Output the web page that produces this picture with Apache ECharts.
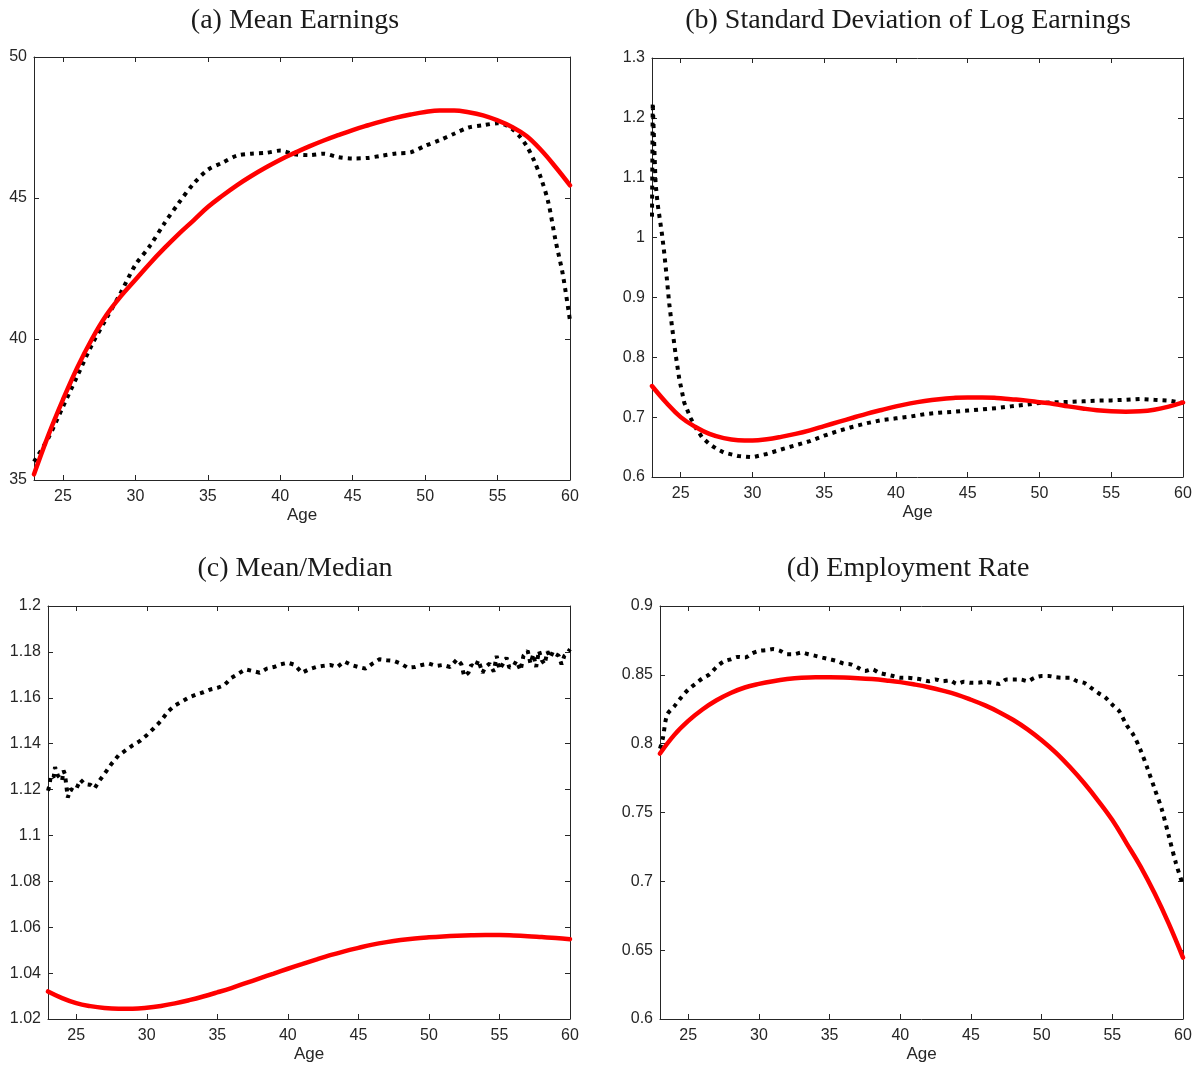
<!DOCTYPE html>
<html>
<head>
<meta charset="utf-8">
<script src="https://cdn.jsdelivr.net/npm/echarts@6/dist/echarts.min.js"></script>
<style>
  html, body { margin: 0; padding: 0; background: #ffffff; }
  #chart { width: 1200px; height: 1068px; }
</style>
</head>
<body>
<div id="chart"></div>
<script>
// Age grid shared by the model curves (one point per year)
const ageYears = [23, 24, 25, 26, 27, 28, 29, 30, 31, 32, 33, 34, 35, 36, 37, 38, 39, 40, 41,
                  42, 43, 44, 45, 46, 47, 48, 49, 50, 51, 52, 53, 54, 55, 56, 57, 58, 59, 60];
const ageTicks = [25, 30, 35, 40, 45, 50, 55, 60];

// (a) Mean earnings
const meanEarnModel = [35.2, 36.6, 37.85, 39.0, 40.0, 40.85, 41.52, 42.1, 42.68, 43.22,
                       43.73, 44.2, 44.68, 45.08, 45.45, 45.78, 46.08, 46.36, 46.6, 46.83,
                       47.04, 47.23, 47.41, 47.57, 47.72, 47.85, 47.96, 48.05, 48.1, 48.1,
                       48.04, 47.93, 47.75, 47.52, 47.2, 46.7, 46.1, 45.45];
const meanEarnAges = [23, 24, 25, 26, 27, 28, 29, 30, 31, 32, 33, 34, 35, 36, 37, 38, 39, 40,
                      41, 42, 43, 44, 45, 46, 47, 48, 49, 50, 51, 52, 53, 54, 55, 55.5, 56,
                      56.5, 57, 57.5, 58, 58.5, 59, 59.5, 60];
const meanEarnData = [35.65, 36.5, 37.6, 38.7, 39.8, 40.73, 41.65, 42.63, 43.3, 44.1, 44.83,
                      45.5, 46.0, 46.25, 46.5, 46.57, 46.6, 46.68, 46.55, 46.52, 46.57, 46.45,
                      46.4, 46.42, 46.5, 46.58, 46.62, 46.85, 47.05, 47.28, 47.5, 47.58, 47.65,
                      47.6, 47.45, 47.2, 46.85, 46.35, 45.7, 44.85, 43.5, 42.3, 40.65];

// (b) Standard deviation of log earnings
const sdModel = [0.752, 0.724, 0.70, 0.684, 0.672, 0.665, 0.6615, 0.661, 0.663, 0.667,
                 0.672, 0.678, 0.685, 0.692, 0.699, 0.706, 0.712, 0.718, 0.723, 0.727,
                 0.730, 0.732, 0.733, 0.733, 0.732, 0.730, 0.728, 0.725, 0.722, 0.718,
                 0.7145, 0.7115, 0.7097, 0.709, 0.7098, 0.7125, 0.7175, 0.7245];
const sdAges = [23, 23.05, 23.25, 23.4, 23.55, 23.7, 23.85, 24, 24.2, 24.4, 24.65, 24.9,
                25.25, 25.7, 26.1, 26.5, 27, 27.5, 28,
                29, 30, 31, 32, 33, 34, 35, 36, 37, 38, 39, 40, 41, 42, 43, 44, 45, 46, 47,
                48, 49, 50, 51, 52, 53, 54, 55, 56, 57, 58, 59, 60];
const sdData = [1.035, 1.225, 1.09, 1.055, 1.03, 1.005, 0.975, 0.94, 0.89, 0.85, 0.804, 0.764,
                0.724, 0.698, 0.68, 0.666, 0.655, 0.647, 0.641,
                0.635, 0.633, 0.6385, 0.646, 0.653, 0.660, 0.669, 0.677, 0.684, 0.690, 0.695,
                0.698, 0.701, 0.705, 0.7075, 0.709, 0.711, 0.713, 0.715, 0.718, 0.7207,
                0.7236, 0.7247, 0.7253, 0.7264, 0.7276, 0.728, 0.729, 0.7305, 0.729, 0.7276,
                0.7236];

// (c) Mean / median
const mmModel = [1.032, 1.0291, 1.0269, 1.0256, 1.0248, 1.0245, 1.0245, 1.0249, 1.0257, 1.0268,
                 1.0282, 1.0298, 1.0316, 1.0335, 1.0356, 1.0377, 1.0398, 1.0419, 1.0439, 1.0459,
                 1.0478, 1.0495, 1.051, 1.0524, 1.0535, 1.0544, 1.0551, 1.0556, 1.056, 1.0563,
                 1.0565, 1.0566, 1.0566, 1.0564, 1.0561, 1.0557, 1.0553, 1.0548];
const mmAges = [23.0, 23.1, 23.2, 23.4, 23.5, 23.7, 24.0, 24.1, 24.2, 24.4,
                24.6, 24.8, 25.0, 25.3, 25.6, 26.0, 26.3, 26.6, 27.0, 27.5,
                28.0, 28.5, 29.0, 29.5, 30.0, 30.5, 31.0, 31.5, 32.0, 32.5,
                33.0, 33.5, 34.0, 34.5, 35.0, 35.5, 36.0, 36.5, 37.0, 37.5,
                38.0, 38.5, 39.0, 39.5, 40.0, 40.5, 41.0, 41.5, 42.0, 42.5,
                43.0, 43.5, 44.0, 44.5, 45.0, 45.5, 46.0, 46.5, 47.0, 47.5,
                48.0, 48.5, 49.0, 49.5, 50.0, 50.5, 51.0, 51.5, 52.0, 52.3,
                52.5, 52.8, 53.0, 53.3, 53.5, 53.8, 54.0, 54.3, 54.6, 54.8,
                55.0, 55.2, 55.5, 55.7, 56.0, 56.2, 56.5, 56.7, 57.0, 57.2,
                57.4, 57.6, 57.8, 58.0, 58.2, 58.4, 58.6, 58.8, 59.0, 59.2,
                59.4, 59.6, 59.8, 60.0];
const mmData = [1.1195, 1.1217, 1.1261, 1.1254, 1.1298, 1.1261, 1.1239, 1.1283, 1.1268, 1.1165,
                1.1202, 1.1195, 1.1202, 1.1243, 1.1224, 1.1221, 1.1205, 1.1235, 1.1268, 1.1312,
                1.1349, 1.1371, 1.1393, 1.1411, 1.1437, 1.1467, 1.1499, 1.154, 1.1567, 1.1584,
                1.1602, 1.1614, 1.1624, 1.1636, 1.1643, 1.1655, 1.1687, 1.1705, 1.1724, 1.1717,
                1.1709, 1.1727, 1.1734, 1.1746, 1.1753, 1.1743, 1.1709, 1.1724, 1.1734, 1.1739,
                1.1743, 1.1734, 1.1758, 1.1743, 1.1734, 1.1727, 1.1749, 1.1768, 1.1764, 1.1761,
                1.1749, 1.1731, 1.1734, 1.1743, 1.1749, 1.1739, 1.1743, 1.1734, 1.1768, 1.1746,
                1.1694, 1.1709, 1.1743, 1.1734, 1.1764, 1.1709, 1.1734, 1.1749, 1.1714, 1.1783,
                1.1724, 1.1743, 1.1775, 1.1731, 1.1739, 1.1761, 1.1719, 1.1783, 1.1805, 1.1749,
                1.179, 1.1734, 1.1805, 1.1764, 1.1746, 1.1802, 1.1775, 1.1802, 1.179, 1.1783,
                1.1746, 1.1783, 1.1793, 1.1812];

// (d) Employment rate
const empModel = [0.7928, 0.8062, 0.8165, 0.8248, 0.8315, 0.8368, 0.8408, 0.8434, 0.8454, 0.8469,
                  0.8479, 0.8483, 0.8483, 0.8481, 0.8476, 0.8469, 0.8459, 0.8447, 0.843, 0.841,
                  0.8385, 0.8356, 0.8319, 0.8278, 0.8229, 0.8172, 0.8104, 0.8025, 0.7935, 0.783,
                  0.7714, 0.7585, 0.7445, 0.7278, 0.7107, 0.6911, 0.6691, 0.6446];
const empAges = [23, 23.2, 23.5, 24, 24.5, 25, 25.5, 26, 26.5, 27, 27.5, 28, 28.5, 29, 29.5,
                 30, 30.5, 31, 31.5, 32, 32.5, 33, 33.5, 34, 34.5, 35, 35.5, 36, 36.5, 37, 37.5,
                 38, 38.5, 39, 39.5, 40, 40.5, 41, 41.5, 42, 42.5, 43, 43.5, 44, 44.5, 45, 45.5,
                 46, 46.5, 47, 47.5, 48, 48.5, 49, 49.5, 50, 50.5, 51, 51.5, 52, 52.5, 53, 53.5,
                 54, 54.5, 55, 55.5, 56, 56.5, 57, 57.5, 58, 58.5, 59, 59.5, 60];
const empData = [0.7964, 0.8038, 0.8209, 0.827, 0.8336, 0.8393, 0.8434, 0.8474, 0.8503, 0.8557,
                 0.8596, 0.8613, 0.863, 0.8625, 0.8655, 0.8674, 0.8679, 0.8687, 0.8674, 0.865,
                 0.865, 0.8662, 0.865, 0.8638, 0.8625, 0.8613, 0.8601, 0.8581, 0.8576, 0.8552,
                 0.8528, 0.854, 0.8515, 0.8503, 0.8491, 0.8479, 0.8479, 0.8474, 0.8466, 0.8454,
                 0.8466, 0.8454, 0.8459, 0.8434, 0.8449, 0.8442, 0.8442, 0.8449, 0.8442, 0.8434,
                 0.8466, 0.8466, 0.8466, 0.8454, 0.8479, 0.8491, 0.8491, 0.8483, 0.8479, 0.8479,
                 0.8454, 0.8442, 0.8405, 0.8368, 0.8336, 0.8283, 0.8234, 0.8136, 0.8062, 0.7952,
                 0.7817, 0.767, 0.7523, 0.7327, 0.7132, 0.6972];

const pairs = (xs, ys) => xs.map((x, i) => [x, ys[i]]);

const AXIS_COLOR = '#262626';
const panels = [
  { title: '(a) Mean Earnings', titleX: 295, titleY: 21,
    grid: { left: 34, top: 57, width: 536, height: 423 },
    yMin: 35, yMax: 50, yStep: 5,
    model: pairs(ageYears, meanEarnModel), data: pairs(meanEarnAges, meanEarnData), smoothData: 0.3 },
  { title: '(b) Standard Deviation of Log Earnings', titleX: 908, titleY: 21,
    grid: { left: 652, top: 58, width: 531, height: 419 },
    yMin: 0.6, yMax: 1.3, yStep: 0.1,
    model: pairs(ageYears, sdModel), data: pairs(sdAges, sdData), smoothData: false },
  { title: '(c) Mean/Median', titleX: 295, titleY: 569,
    grid: { left: 48, top: 606, width: 522, height: 413 },
    yMin: 1.02, yMax: 1.2, yStep: 0.02,
    model: pairs(ageYears, mmModel), data: pairs(mmAges, mmData), smoothData: false },
  { title: '(d) Employment Rate', titleX: 908, titleY: 569,
    grid: { left: 660, top: 606, width: 523, height: 413 },
    yMin: 0.6, yMax: 0.9, yStep: 0.05,
    model: pairs(ageYears, empModel), data: pairs(empAges, empData), smoothData: 0.3 }
];

const grids = [], xAxes = [], yAxes = [], series = [], graphics = [];
const lineCommon = { show: true, lineStyle: { color: AXIS_COLOR, width: 1 } };

panels.forEach((p, i) => {
  grids.push(Object.assign({ containLabel: false }, p.grid));

  // bottom axis with labels, top axis as a mirrored frame edge
  xAxes.push({
    type: 'value', gridIndex: i, position: 'bottom', min: 23, max: 60,
    axisLine: lineCommon,
    axisTick: { show: true, inside: true, length: 5, customValues: ageTicks,
                lineStyle: { color: AXIS_COLOR } },
    axisLabel: { show: true, customValues: ageTicks, margin: 9, color: AXIS_COLOR,
                 fontFamily: 'Liberation Sans', fontSize: 16 },
    splitLine: { show: false },
    name: 'Age', nameLocation: 'middle', nameGap: 27,
    nameTextStyle: { color: AXIS_COLOR, fontFamily: 'Liberation Sans', fontSize: 17 }
  });
  xAxes.push({
    type: 'value', gridIndex: i, position: 'top', min: 23, max: 60,
    axisLine: lineCommon,
    axisTick: { show: true, inside: true, length: 5, customValues: ageTicks,
                lineStyle: { color: AXIS_COLOR } },
    axisLabel: { show: false },
    splitLine: { show: false }
  });

  yAxes.push({
    type: 'value', gridIndex: i, position: 'left', min: p.yMin, max: p.yMax, interval: p.yStep,
    axisLine: lineCommon,
    axisTick: { show: true, inside: true, length: 5, lineStyle: { color: AXIS_COLOR } },
    axisLabel: { show: true, margin: 7, color: AXIS_COLOR,
                 fontFamily: 'Liberation Sans', fontSize: 16 },
    splitLine: { show: false }
  });
  yAxes.push({
    type: 'value', gridIndex: i, position: 'right', min: p.yMin, max: p.yMax, interval: p.yStep,
    axisLine: lineCommon,
    axisTick: { show: true, inside: true, length: 5, lineStyle: { color: AXIS_COLOR } },
    axisLabel: { show: false },
    splitLine: { show: false }
  });

  // observed profile: heavy black dotted line
  series.push({
    type: 'line', xAxisIndex: 2 * i, yAxisIndex: 2 * i, data: p.data,
    showSymbol: false, smooth: p.smoothData, z: 2,
    lineStyle: { color: '#000000', width: 4, type: [4, 5], cap: 'butt' }
  });
  // model profile: solid red line
  series.push({
    type: 'line', xAxisIndex: 2 * i, yAxisIndex: 2 * i, data: p.model,
    showSymbol: false, smooth: 0.4, z: 3,
    lineStyle: { color: '#ff0000', width: 4.5, cap: 'round' }
  });

  graphics.push({
    type: 'text', x: p.titleX, y: p.titleY,
    style: { text: p.title, fill: '#1a1a1a', font: '28px "Liberation Serif"',
             textAlign: 'center', textVerticalAlign: 'middle' }
  });
});

const chart = echarts.init(document.getElementById('chart'), null, { renderer: 'canvas' });
chart.setOption({
  animation: false,
  backgroundColor: '#ffffff',
  grid: grids,
  xAxis: xAxes,
  yAxis: yAxes,
  series: series,
  graphic: graphics
});
</script>
</body>
</html>
